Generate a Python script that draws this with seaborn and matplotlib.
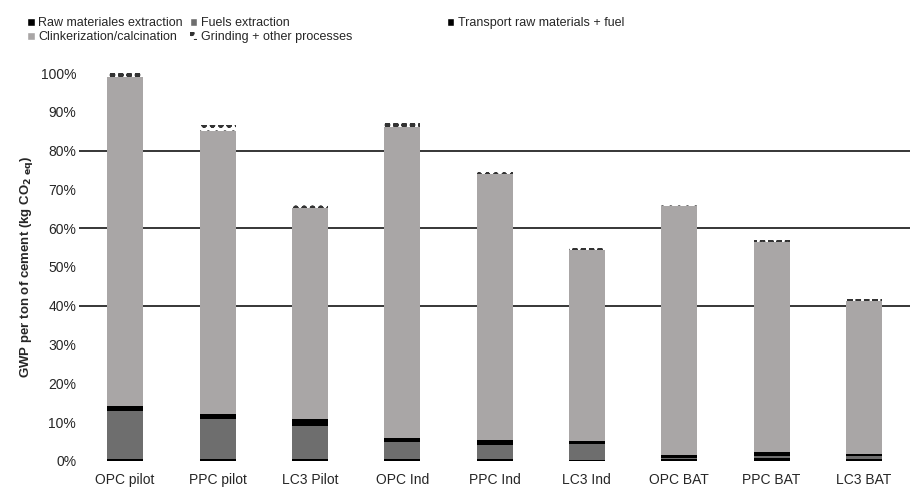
import pandas as pd
import seaborn as sns
import matplotlib.pyplot as plt
import matplotlib.patches as mpatches

# cement scenarios on the x axis
scenarios = ["OPC pilot", "PPC pilot", "LC3 Pilot", "OPC Ind", "PPC Ind",
             "LC3 Ind", "OPC BAT", "PPC BAT", "LC3 BAT"]

# contribution of each stage, % of OPC pilot GWP
raw_materials = [0.6, 0.6, 0.6, 0.6, 0.6, 0.3, 0.5, 0.8, 0.4]
fuels = [12.2, 10.2, 8.5, 4.4, 3.4, 4.2, 0.3, 0.4, 0.8]
transport = [1.3, 1.3, 1.8, 0.9, 1.5, 0.7, 0.8, 1.0, 0.6]
clinker = [84.9, 72.9, 54.3, 80.1, 68.5, 49.2, 64.0, 54.3, 39.5]
grinding = [1.0, 1.5, 0.8, 1.0, 1.0, 0.6, 0.7, 0.5, 0.4]

stages = ["Raw materiales extraction", "Fuels extraction",
          "Transport raw materials + fuel", "Clinkerization/calcination",
          "Grinding + other processes"]
yticks = [0, 10, 20, 30, 40, 50, 60, 70, 80, 90, 100]
grid_levels = [40, 60, 80]

df = pd.DataFrame({
    "Scenario": scenarios,
    stages[0]: raw_materials,
    stages[1]: fuels,
    stages[2]: transport,
    stages[3]: clinker,
    stages[4]: grinding,
})
# cumulative tops, drawn from the tallest down so each layer covers the next
cum = df[stages].cumsum(axis=1) / 100

colors = {
    stages[0]: "#000000",
    stages[1]: "#6e6e6e",
    stages[2]: "#000000",
    stages[3]: "#a9a6a6",
    stages[4]: "#ffffff",
}
hatch_col = "#333333"

sns.set_style("white")
plt.rcParams["font.family"] = ["Liberation Sans", "DejaVu Sans"]
plt.rcParams["hatch.linewidth"] = 1.6

fig = plt.figure(figsize=(9.24, 4.87), dpi=100)
ax = fig.add_axes([0.0855, 0.0534, 0.8994, 0.7967])

for lvl in grid_levels:
    ax.axhline(lvl / 100, color="black", linewidth=1.1, zorder=0)

for st in reversed(stages):
    n0 = len(ax.patches)
    sns.barplot(x=df["Scenario"], y=cum[st], color=colors[st], width=0.39,
                saturation=1, ax=ax, zorder=2, linewidth=0)
    if st == stages[4]:
        for p in ax.patches[n0:]:
            p.set_hatch("oo")
            p.set_edgecolor(hatch_col)
            p.set_linewidth(0)

ax.set_ylim(0, 1)
ax.set_xlim(-0.5, len(scenarios) - 0.5)
ax.set_yticks([t / 100 for t in yticks])
ax.set_yticklabels([f"{t}%" for t in yticks], fontsize=10)
ax.tick_params(axis="y", length=0, pad=2)
ax.tick_params(axis="x", length=0, pad=9, labelsize=10)
ax.set_xlabel("")
ax.set_ylabel(r"GWP per ton of cement (kg CO$_{\mathbf{2\ eq}}$)",
              fontsize=9.5, fontweight="bold", labelpad=4)
for s in ax.spines.values():
    s.set_visible(False)

handles = {st: mpatches.Patch(facecolor=colors[st], label=st) for st in stages}
handles[stages[4]] = mpatches.Patch(facecolor=colors[stages[4]], hatch="oo",
                                    edgecolor=hatch_col, linewidth=0,
                                    label=stages[4])

cols = [([stages[0], stages[3]], 0.024), ([stages[1], stages[4]], 0.2),
        ([stages[2]], 0.478)]
for names, xpos in cols:
    leg = fig.legend(handles=[handles[n] for n in names], loc="upper left",
                     bbox_to_anchor=(xpos, 0.975), frameon=False, fontsize=9,
                     handlelength=0.6, handleheight=0.6, handletextpad=0.3,
                     labelspacing=0.15, borderaxespad=0)

fig.savefig("out.png", dpi=100)
